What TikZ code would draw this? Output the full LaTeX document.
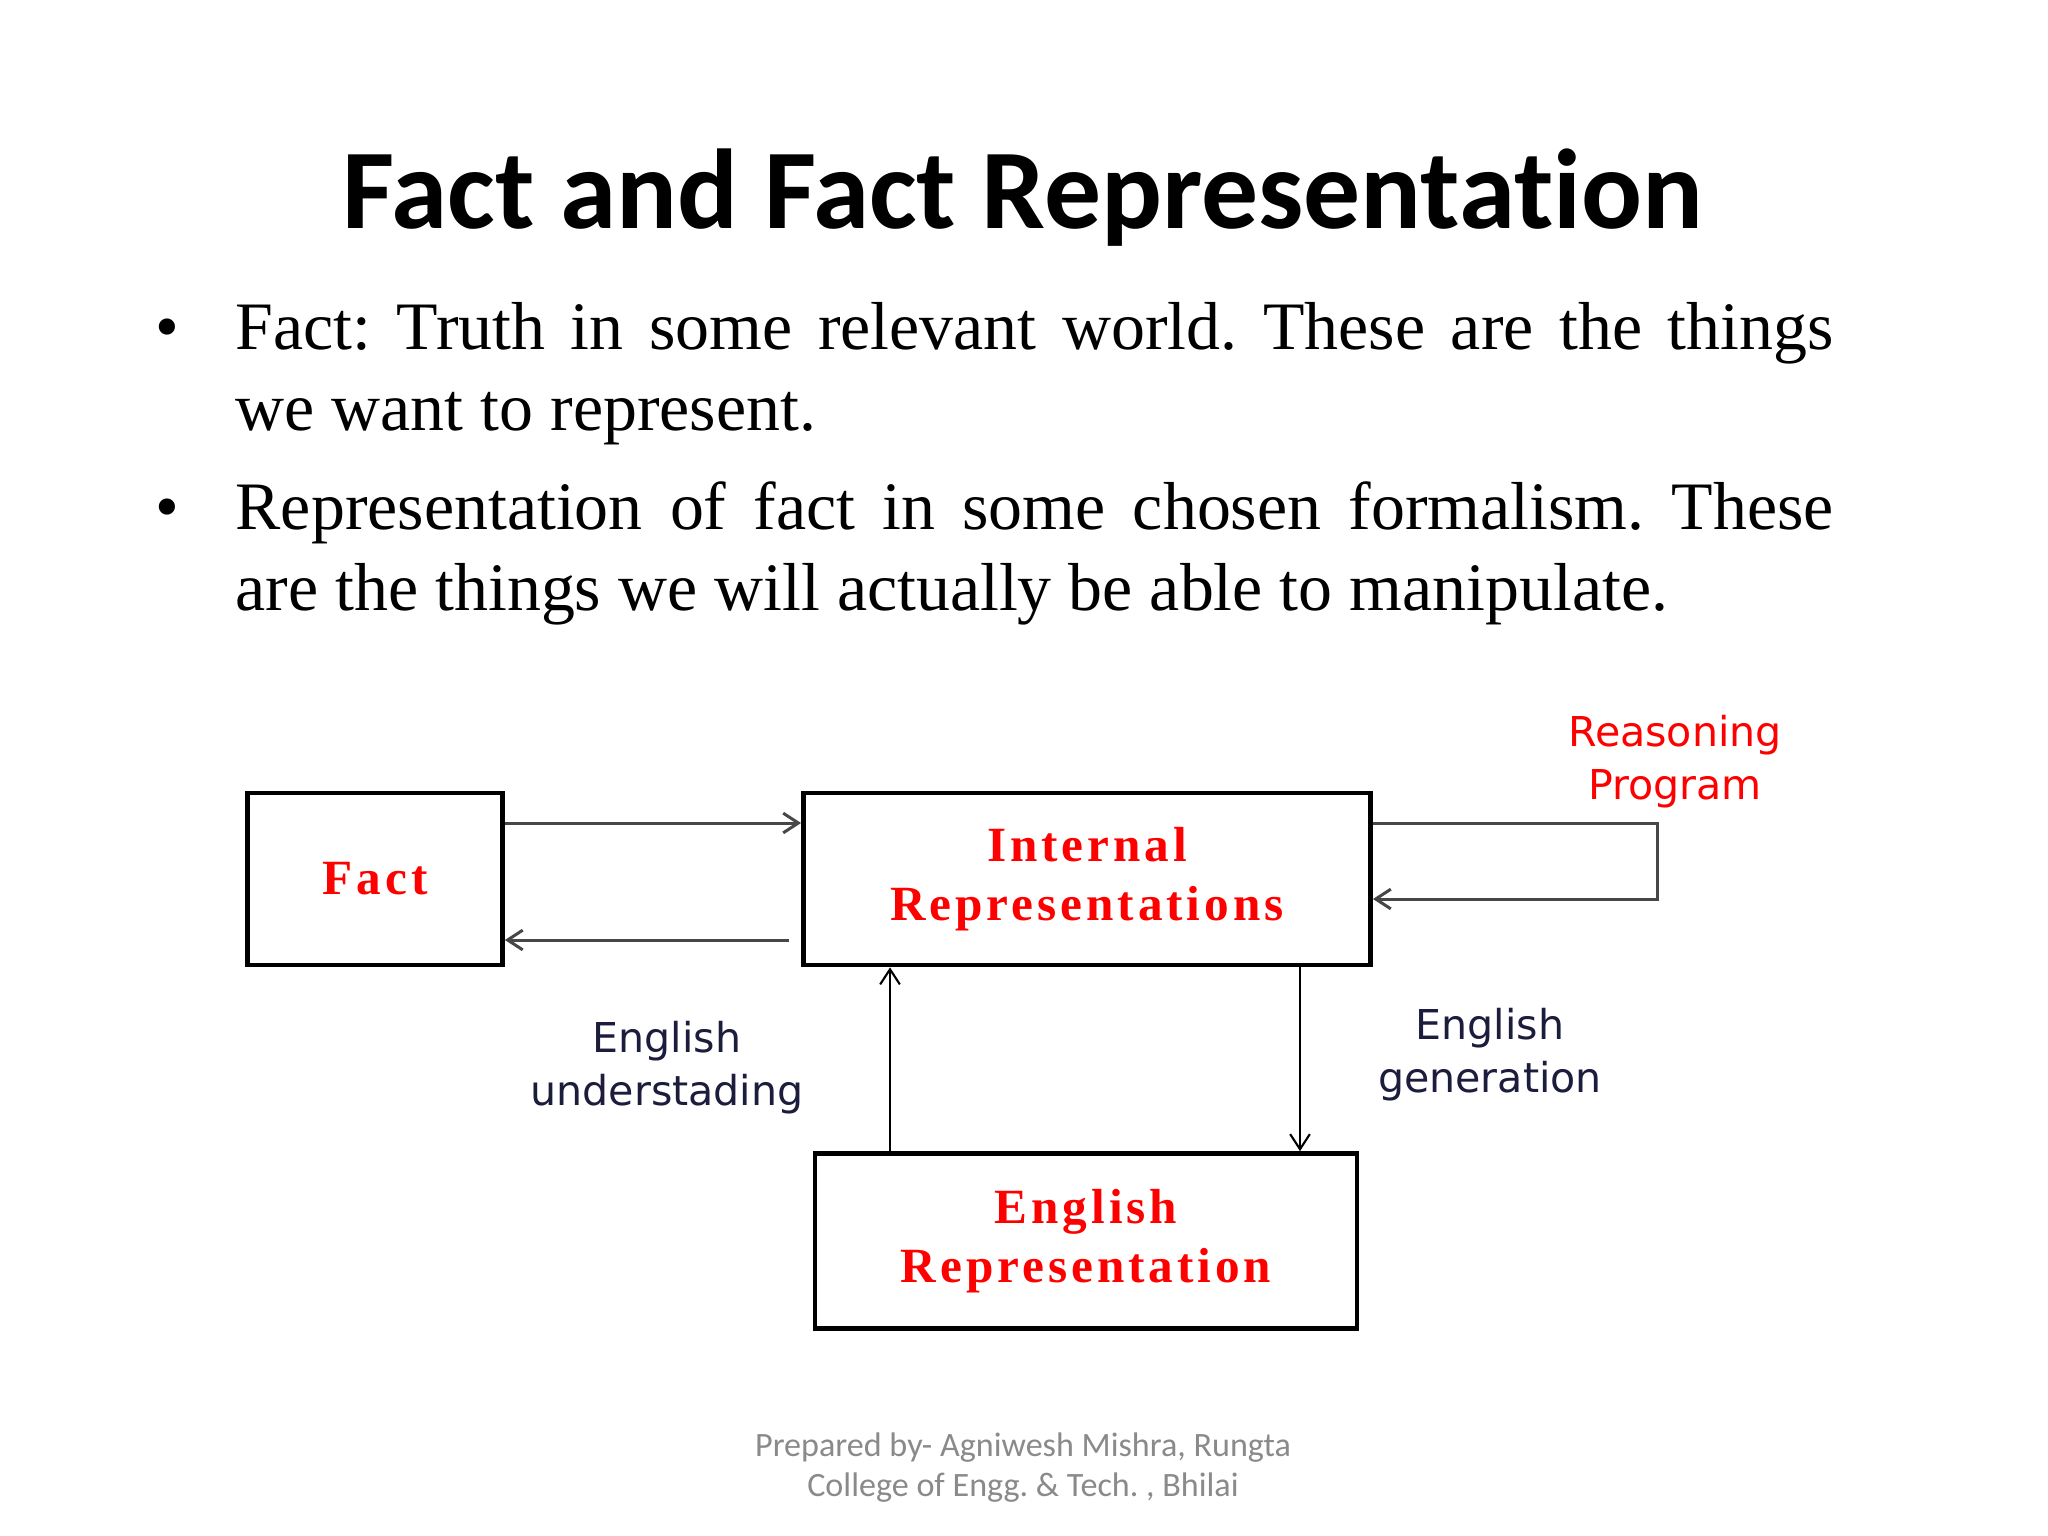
\documentclass[tikz,border=0pt]{standalone}
\usepackage{fontspec}
\setmainfont{Liberation Serif}
\newfontfamily\titlefont[Ligatures=NoCommon]{Carlito}
\newfontfamily\labelfont{DejaVu Sans}
\newfontfamily\boxfont[LetterSpace=8]{Liberation Serif}
\usetikzlibrary{arrows.meta, positioning, calc}
\usepackage{xcolor}
\definecolor{boxred}{HTML}{FF0000}
\definecolor{labelnavy}{HTML}{1C1C3C}
\definecolor{footgray}{HTML}{8A8A8A}
\definecolor{linegray}{HTML}{474747}
\tikzstyle{flow} = [
    line width=0.85pt,
    draw=linegray,
    -{Straight Barb[length=4.3pt, width=5.6pt]}
]
\tikzstyle{vflow} = [flow, line width=0.6pt, draw=black]
\frenchspacing

\begin{document}
\begin{tikzpicture}[
    x=0.01cm, y=-0.01cm,
    box/.style={
        rectangle,
        draw=black,
        line width=1.3pt,
        inner sep=0pt,
        align=center,
        text=boxred,
        font=\boxfont\bfseries\fontsize{14}{16.8}\selectfont
    },
    bullettext/.style={
        anchor=base west,
        inner sep=0pt,
        text width=15.97cm,
        align=justify,
        font=\fontsize{19.3}{23.2}\selectfont
    },
    dot/.style={anchor=base, inner sep=0pt, font=\fontsize{19.3}{23.2}\selectfont},
    edgelabel/.style={
        align=center,
        inner sep=0pt,
        text=labelnavy,
        font=\labelfont\fontsize{11.7}{15}\selectfont
    },
    footer/.style={anchor=base, inner sep=0pt, text=footgray,
        font=\titlefont\fontsize{9.7}{11.4}\selectfont}
]
\useasboundingbox[fill=white] (0,0) rectangle (2048,1536);

% Title and bullets
\node[anchor=base, inner sep=0pt, font=\titlefont\bfseries\fontsize{32.3}{36}\selectfont]
    (title) at (1023,228) {Fact and Fact Representation};

\node[dot] (dot1) at (167,349) {\textbullet};
\node[bullettext] (item1) at (235,349)
    {Fact: Truth in some relevant world. These are the things\linebreak we want to represent.};
\node[dot] (dot2) at (167,529) {\textbullet};
\node[bullettext] (item2) at (235,529)
    {Representation of fact in some chosen formalism. These\linebreak are the things we will actually be able to manipulate.};

% Boxes
\node[box, minimum width=2.55cm, minimum height=1.72cm] (fact) at (375,879) {Fact};
\node[box, minimum width=5.67cm, minimum height=1.72cm] (internal) at (1087,879)
    {Internal\\Representations};
\node[box, minimum width=5.42cm, minimum height=1.75cm] (english) at (1086,1241)
    {English\\Representation};

% Helper coordinates
\coordinate (topy) at (0,823);
\coordinate (boty) at (0,940);
\coordinate (loopy) at (0,899);
\coordinate (loopx) at (1657,0);
\coordinate (backx) at (789,0);
\coordinate (upx) at (890,0);
\coordinate (downx) at (1300,0);

% Arrows
\draw[flow] (fact.east |- topy) -- (internal.west |- topy);
\draw[flow] (backx |- boty) -- (fact.east |- boty);
\draw[flow] (internal.east |- topy) -- (loopx |- topy) -- (loopx |- loopy) -- (internal.east |- loopy);
\draw[vflow] (english.north -| upx) -- (internal.south -| upx);
\draw[vflow] (internal.south -| downx) -- (english.north -| downx);

% Labels
\node[edgelabel, text=boxred] (reason) at (1675,762) {Reasoning\\Program};
\node[edgelabel] (underst) at (667,1068) {English\\understading};
\node[edgelabel] (gener) at (1490,1055) {English\\generation};

% Footer
\node[footer] (foot1) at (1023,1456) {Prepared by- Agniwesh Mishra, Rungta};
\node[footer] (foot2) at (1023,1496) {College of Engg. \& Tech. , Bhilai};
\end{tikzpicture}
\end{document}
